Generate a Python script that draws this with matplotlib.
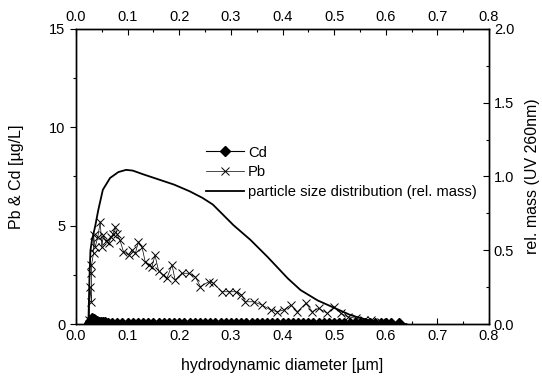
import matplotlib
matplotlib.use("Agg")
import matplotlib.pyplot as plt
from matplotlib.ticker import MultipleLocator

plt.rcParams['font.family'] = ['Liberation Sans', 'DejaVu Sans']
plt.rcParams['font.size'] = 10.5

# Data
# particle size distribution (rel. mass, right axis)
psd_x = [0.024, 0.026, 0.028, 0.031, 0.037, 0.043, 0.052, 0.066, 0.082, 0.097,
         0.110, 0.130, 0.160, 0.190, 0.220, 0.245, 0.265, 0.285, 0.305, 0.338,
         0.371, 0.410, 0.435, 0.468, 0.500, 0.532, 0.565, 0.596, 0.620, 0.640]
psd_y = [0.0, 0.30, 0.50, 0.57, 0.66, 0.77, 0.91, 0.99, 1.03, 1.045,
         1.04, 1.015, 0.98, 0.945, 0.90, 0.855, 0.81, 0.74, 0.67, 0.57,
         0.455, 0.31, 0.23, 0.16, 0.11, 0.06, 0.027, 0.007, 0.0, 0.0]

# Pb [ug/L]
pb_x = [0.026, 0.027, 0.030, 0.030, 0.030, 0.034, 0.034, 0.037, 0.042, 0.047,
        0.050, 0.053, 0.058, 0.063, 0.068, 0.072, 0.076, 0.079, 0.085, 0.092,
        0.102, 0.108, 0.115, 0.121, 0.128, 0.134, 0.141, 0.147, 0.153, 0.160,
        0.168, 0.176, 0.186, 0.192, 0.205, 0.218, 0.231, 0.241, 0.257, 0.266,
        0.283, 0.296, 0.309, 0.320, 0.328, 0.344, 0.360, 0.377, 0.390, 0.402,
        0.416, 0.429, 0.445, 0.458, 0.470, 0.487, 0.500, 0.513, 0.526, 0.542,
        0.558, 0.571, 0.590]
pb_y = [0.2, 1.9, 1.1, 2.6, 3.0, 3.6, 4.5, 3.9, 4.4, 5.2,
        3.9, 4.5, 4.2, 4.1, 4.4, 4.6, 4.95, 4.6, 4.27, 3.68,
        3.5, 3.76, 3.6, 4.18, 3.9, 3.17, 3.0, 2.9, 3.5, 2.7,
        2.5, 2.33, 3.0, 2.24, 2.58, 2.58, 2.4, 1.9, 2.15, 2.08,
        1.64, 1.64, 1.64, 1.5, 1.13, 1.13, 0.97, 0.71, 0.63, 0.71,
        0.97, 0.63, 1.05, 0.63, 0.8, 0.54, 0.88, 0.54, 0.37, 0.29,
        0.2, 0.2, 0.12]

# Cd [ug/L]
cd_x = [0.025, 0.028, 0.031, 0.034, 0.037, 0.040, 0.044, 0.048, 0.052, 0.057,
        0.062, 0.070, 0.080, 0.090, 0.100, 0.110, 0.120, 0.130, 0.140, 0.150,
        0.160, 0.170, 0.180, 0.190, 0.200, 0.210, 0.220, 0.230, 0.240, 0.250,
        0.260, 0.270, 0.280, 0.290, 0.300, 0.310, 0.320, 0.330, 0.340, 0.350,
        0.360, 0.370, 0.380, 0.390, 0.400, 0.410, 0.420, 0.430, 0.440, 0.450,
        0.460, 0.470, 0.480, 0.490, 0.500, 0.510, 0.520, 0.530, 0.540, 0.550,
        0.560, 0.570, 0.580, 0.590, 0.600, 0.610, 0.625]
cd_y = [0.05, 0.15, 0.30, 0.25, 0.20, 0.15, 0.12, 0.10, 0.09, 0.08,
        0.07, 0.06, 0.06, 0.05, 0.05, 0.05, 0.05, 0.05, 0.05, 0.05,
        0.05, 0.05, 0.05, 0.05, 0.05, 0.05, 0.05, 0.05, 0.05, 0.05,
        0.05, 0.05, 0.05, 0.05, 0.05, 0.05, 0.05, 0.05, 0.05, 0.05,
        0.05, 0.05, 0.05, 0.05, 0.05, 0.05, 0.05, 0.05, 0.05, 0.05,
        0.05, 0.05, 0.05, 0.05, 0.05, 0.05, 0.05, 0.05, 0.05, 0.05,
        0.05, 0.05, 0.05, 0.05, 0.05, 0.05, 0.05]

fig = plt.figure(figsize=(5.42, 3.78), dpi=100)
ax = fig.add_axes([76 / 542, 1 - 324 / 378, 413 / 542, 295 / 378])
ax2 = ax.twinx()

l_cd, = ax.plot(cd_x, cd_y, color='black', linewidth=0.8, marker='D',
                markersize=5.5, label='Cd', zorder=3)
l_pb, = ax.plot(pb_x, pb_y, color='black', linewidth=0.5, marker='x',
                markersize=6, markeredgewidth=0.7, label='Pb', zorder=3)
l_psd, = ax2.plot(psd_x, psd_y, color='black', linewidth=1.3,
                  label='particle size distribution (rel. mass)')

ax.set_xlim(0, 0.8)
ax.set_ylim(0, 15)
ax2.set_ylim(0, 2.0)

ax.xaxis.set_major_locator(MultipleLocator(0.1))
ax.xaxis.set_minor_locator(MultipleLocator(0.05))
ax.yaxis.set_major_locator(MultipleLocator(5))
ax.yaxis.set_minor_locator(MultipleLocator(2.5))
ax2.yaxis.set_major_locator(MultipleLocator(0.5))
ax2.yaxis.set_minor_locator(MultipleLocator(0.25))

ax.xaxis.set_major_formatter(plt.FormatStrFormatter('%.1f'))
ax2.yaxis.set_major_formatter(plt.FormatStrFormatter('%.1f'))

ax.tick_params(axis='x', which='both', direction='in', top=True, labeltop=True,
               bottom=True, labelbottom=True)
ax.tick_params(axis='x', which='major', length=4, width=0.8)
ax.tick_params(axis='x', which='minor', length=2.5, width=0.8)
ax.tick_params(axis='y', which='major', direction='out', length=4, width=0.8)
ax.tick_params(axis='y', which='minor', direction='out', length=2.5, width=0.8)
ax2.tick_params(axis='y', which='major', direction='in', length=4, width=0.8)
ax2.tick_params(axis='y', which='minor', direction='in', length=2.5, width=0.8)

for a in (ax, ax2):
    for s in a.spines.values():
        s.set_linewidth(1.0)

ax.set_xlabel('hydrodynamic diameter [\u00b5m]', fontsize=11.5)
ax.set_ylabel('Pb & Cd [\u00b5g/L]', fontsize=11.5)
ax2.set_ylabel('rel. mass (UV 260nm)', fontsize=11.5)
ax.xaxis.set_label_coords(0.5, -0.116)
ax.yaxis.set_label_coords(-0.126, 0.5)
ax2.yaxis.set_label_coords(1.087, 0.5)

ax.legend(handles=[l_cd, l_pb, l_psd], loc='upper left',
          bbox_to_anchor=(0.29, 0.64), frameon=False, handlelength=2.6,
          handletextpad=0.25, labelspacing=0.4, borderpad=0.2, fontsize=10.6)

fig.savefig('out.png', dpi=100)
